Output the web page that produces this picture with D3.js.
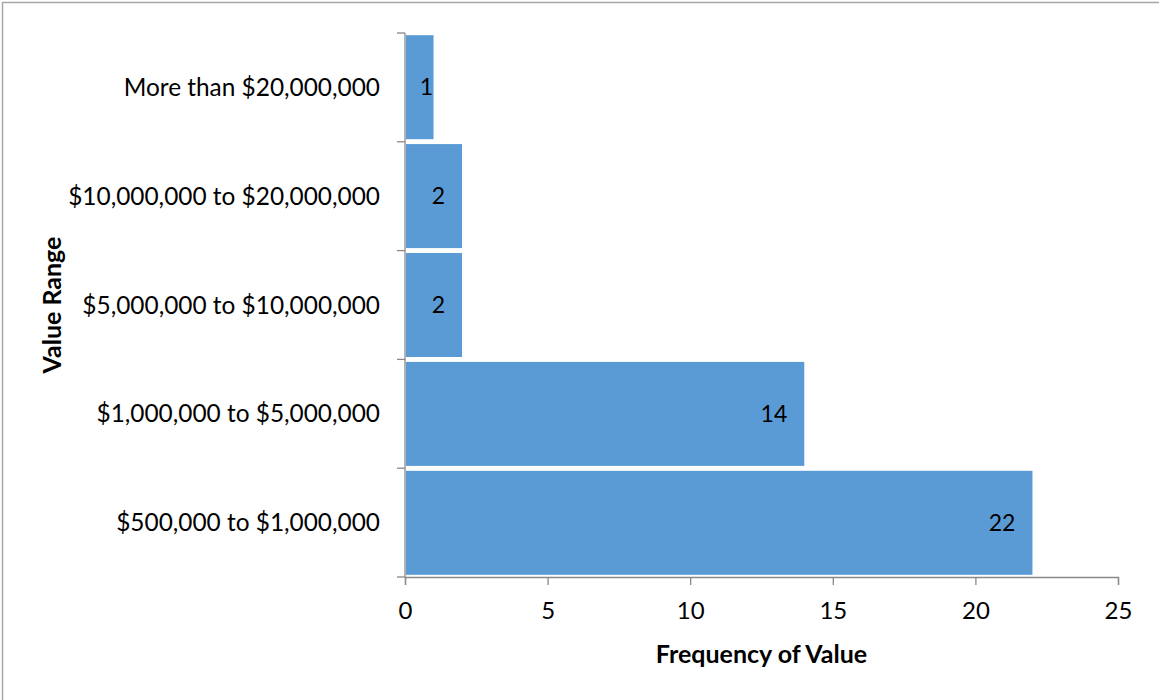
<!DOCTYPE html>
<html>
<head>
<meta charset="utf-8">
<script src="https://cdn.jsdelivr.net/npm/d3@7"></script>
<style>
  html, body { margin: 0; padding: 0; background: #fff; }
  svg { display: block; }
  text { font-family: "Lato", "Carlito", "Calibri", sans-serif; fill: #000; }
</style>
</head>
<body>
<svg id="chart" width="1159" height="700"></svg>
<script>
// Value ranges, listed bottom to top as they appear on the axis
const categories = [
  "$500,000 to $1,000,000",
  "$1,000,000 to $5,000,000",
  "$5,000,000 to $10,000,000",
  "$10,000,000 to $20,000,000",
  "More than $20,000,000"
];
// Number of items falling in each range
const frequencies = [22, 14, 2, 2, 1];
const xTicks = [0, 5, 10, 15, 20, 25];

const svg = d3.select("#chart");
const plot = { left: 405, right: 1118, top: 33, bottom: 577 };

// outer frame
svg.append("rect")
  .attr("x", 2.5).attr("y", 2.5)
  .attr("width", 1170).attr("height", 710)
  .attr("fill", "none").attr("stroke", "#a6a6a6").attr("stroke-width", 1.5);

const x = d3.scaleLinear().domain([0, 25]).range([plot.left, plot.right]);
const y = d3.scaleBand()
  .domain(categories.slice().reverse())
  .range([plot.top, plot.bottom])
  .paddingInner(0.045)
  .paddingOuter(0.02);

// bars
svg.append("g").selectAll("rect")
  .data(categories)
  .join("rect")
  .attr("x", x(0) + 1)
  .attr("y", d => y(d))
  .attr("width", (d, i) => x(frequencies[i]) - x(0) - 1)
  .attr("height", y.bandwidth())
  .attr("fill", "#5b9bd5");

// value labels, inside the end of each bar
svg.append("g").selectAll("text")
  .data(categories)
  .join("text")
  .attr("x", (d, i) => Math.max(x(frequencies[i]) - 17, x(0) + 28))
  .attr("y", d => y(d) + y.bandwidth() / 2)
  .attr("dy", "0.35em")
  .attr("text-anchor", "end")
  .attr("font-size", 23)
  .text((d, i) => frequencies[i]);

const axisColor = "#898989";
const step = (plot.bottom - plot.top) / categories.length;

// vertical axis with tick marks on the range boundaries
const yAxis = svg.append("g");
yAxis.append("line")
  .attr("x1", plot.left).attr("x2", plot.left)
  .attr("y1", plot.top).attr("y2", plot.bottom)
  .attr("stroke", axisColor).attr("stroke-width", 1.3);
yAxis.selectAll("line.tick")
  .data(d3.range(categories.length + 1))
  .join("line")
  .attr("class", "tick")
  .attr("x1", plot.left - 8).attr("x2", plot.left)
  .attr("y1", i => plot.top + i * step)
  .attr("y2", i => plot.top + i * step)
  .attr("stroke", axisColor).attr("stroke-width", 1.3);
yAxis.selectAll("text")
  .data(categories)
  .join("text")
  .attr("x", plot.left - 25)
  .attr("y", d => y(d) + y.bandwidth() / 2)
  .attr("dy", "0.35em")
  .attr("text-anchor", "end")
  .attr("font-size", 24.4)
  .text(d => d);

// horizontal axis
const xAxis = d3.axisBottom(x).tickValues(xTicks).tickSize(8).tickPadding(17).tickFormat(d3.format("d"));
const gx = svg.append("g")
  .attr("transform", `translate(0,${plot.bottom})`)
  .call(xAxis);
gx.select(".domain").attr("stroke", axisColor).attr("stroke-width", 1.3);
gx.selectAll(".tick line").attr("stroke", axisColor).attr("stroke-width", 1.3);
gx.selectAll(".tick text")
  .attr("font-size", 24)
  .attr("font-family", "Lato, Carlito, Calibri, sans-serif")
  .attr("fill", "#000");

// axis titles
svg.append("text")
  .attr("x", (plot.left + plot.right) / 2)
  .attr("y", 663)
  .attr("text-anchor", "middle")
  .attr("font-size", 25)
  .attr("font-weight", "bold")
  .text("Frequency of Value");

svg.append("text")
  .attr("transform", `translate(61,${(plot.top + plot.bottom) / 2}) rotate(-90)`)
  .attr("text-anchor", "middle")
  .attr("font-size", 25)
  .attr("font-weight", "bold")
  .text("Value Range");
</script>
</body>
</html>
